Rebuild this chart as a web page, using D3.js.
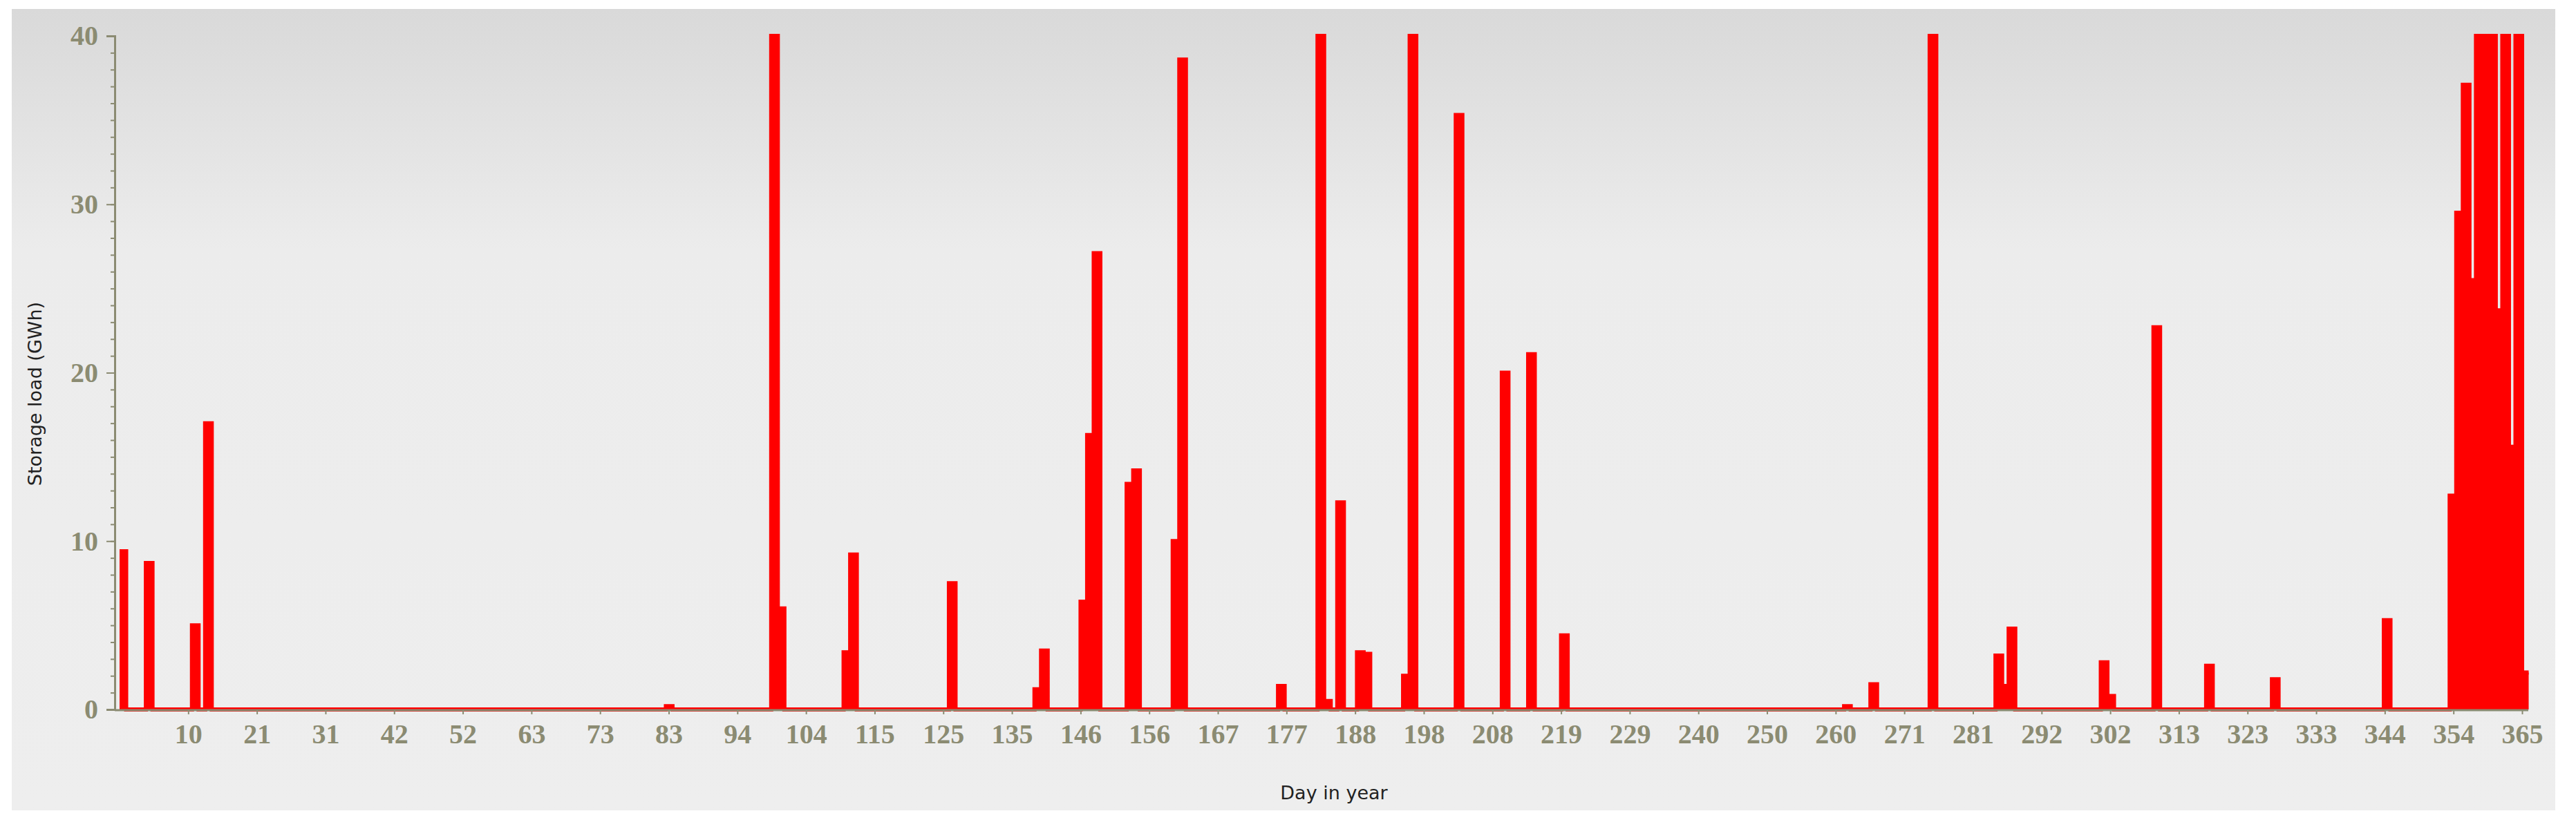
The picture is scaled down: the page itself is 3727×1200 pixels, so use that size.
<!DOCTYPE html>
<html>
<head>
<meta charset="utf-8">
<script src="https://cdn.jsdelivr.net/npm/d3@7"></script>
<style>
  body { margin: 0; background: #fff; }
  .tick text { font-family: "Liberation Serif", serif; font-weight: bold; fill: #8b8b72; }
  .lbl { font-family: "DejaVu Sans", sans-serif; font-size: 27px; fill: #222; }
</style>
</head>
<body>
<script>
// days with non-zero storage load, and their values (GWh)
const days = [0, 4, 11, 13, 83, 99, 100, 110, 111, 126, 139, 140, 146, 147, 148, 153, 154, 160, 161,
  176, 182, 183, 185, 188, 189, 195, 196, 203, 210, 214, 219, 262, 266, 275, 285, 286, 287, 301, 302,
  309, 317, 327, 344, 354, 355, 356, 357, 358, 359, 360, 361, 362, 363, 364, 365];
const loads = [9.4, 8.7, 5.0, 17.0, 0.2, 40, 6.0, 3.4, 9.2, 7.5, 1.2, 3.5, 6.4, 16.3, 27.1, 13.4, 14.2, 10.0, 38.6,
  1.4, 40, 0.5, 12.3, 3.4, 3.3, 2.0, 40, 35.3, 20.0, 21.1, 4.4, 0.2, 1.5, 40, 3.2, 1.4, 4.8, 2.8, 0.8,
  22.7, 2.6, 1.8, 5.3, 12.7, 29.5, 37.1, 25.5, 40, 40, 40, 23.7, 40, 15.6, 40, 2.2];
const xTickLabels = ["10", "21", "31", "42", "52", "63", "73", "83", "94", "104", "115", "125", "135", "146",
  "156", "167", "177", "188", "198", "208", "219", "229", "240", "250", "260", "271", "281", "292", "302",
  "313", "323", "333", "344", "354", "365"];
const yTicks = [0, 10, 20, 30, 40];

const W = 3727, H = 1200;
const svg = d3.select("body").append("svg").attr("width", W).attr("height", H);

const grad = svg.append("defs").append("linearGradient").attr("id", "bg")
  .attr("x1", 0).attr("y1", 0).attr("x2", 0).attr("y2", 1);
grad.append("stop").attr("offset", "0").attr("stop-color", "#d9d9d9");
grad.append("stop").attr("offset", "0.3").attr("stop-color", "#ececec");
grad.append("stop").attr("offset", "1").attr("stop-color", "#eeeeee");
svg.append("rect").attr("x", 17).attr("y", 13).attr("width", 3680).attr("height", 1160).attr("fill", "url(#bg)");

const x = d3.scaleLinear().domain([0, 365]).range([173, 3649]);
const y = d3.scaleLinear().domain([0, 40]).range([1027, 52]);

// full daily series, zero where nothing stored
const series = d3.range(0, 366).map(d => {
  const i = days.indexOf(d);
  return { day: d, v: i < 0 ? 0 : loads[i] };
});
series.push({ day: 366, v: series[365].v });

const area = d3.area().curve(d3.curveStepAfter)
  .x(d => x(d.day)).y0(y(0)).y1(d => y(d.v));
const line = d3.line().curve(d3.curveStepAfter)
  .x(d => x(d.day)).y(d => y(d.v));

svg.append("path").datum(series).attr("d", area).attr("fill", "#ff0000");
svg.append("path").datum(series).attr("d", line).attr("fill", "none")
  .attr("stroke", "#ff0000").attr("stroke-width", 6);

const axisCol = "#8b8b72";
// y axis
const yMinor = svg.append("g").attr("transform", "translate(166,0)")
  .call(d3.axisLeft(y).tickValues(d3.range(0, 41)).tickSize(6).tickFormat(""));
const yAxis = svg.append("g").attr("transform", "translate(166,0)")
  .call(d3.axisLeft(y).tickValues(yTicks).tickSize(12).tickPadding(12).tickFormat(d3.format("d")));
yAxis.selectAll("text").style("font-size", "40px");
// x axis
const xAxis = svg.append("g").attr("transform", "translate(0,1028)")
  .call(d3.axisBottom(x).tickValues(xTickLabels.map((_, i) => (i + 1) * 365 / 35))
    .tickSize(6).tickPadding(14).tickFormat((_, i) => xTickLabels[i]));
xAxis.selectAll("text").style("font-size", "40px");
xAxis.select(".domain").attr("d", "M166,0H3658");
[yMinor, yAxis, xAxis].forEach(g => {
  g.selectAll("line").attr("stroke", axisCol).attr("stroke-width", 2);
  g.selectAll(".domain").attr("stroke", axisCol).attr("stroke-width", 3);
});

svg.append("text").attr("class", "lbl").attr("text-anchor", "middle")
  .attr("transform", "translate(60,570) rotate(-90)").text("Storage load (GWh)");
svg.append("text").attr("class", "lbl").attr("text-anchor", "middle")
  .attr("x", 1930).attr("y", 1157).text("Day in year");
</script>
</body>
</html>
